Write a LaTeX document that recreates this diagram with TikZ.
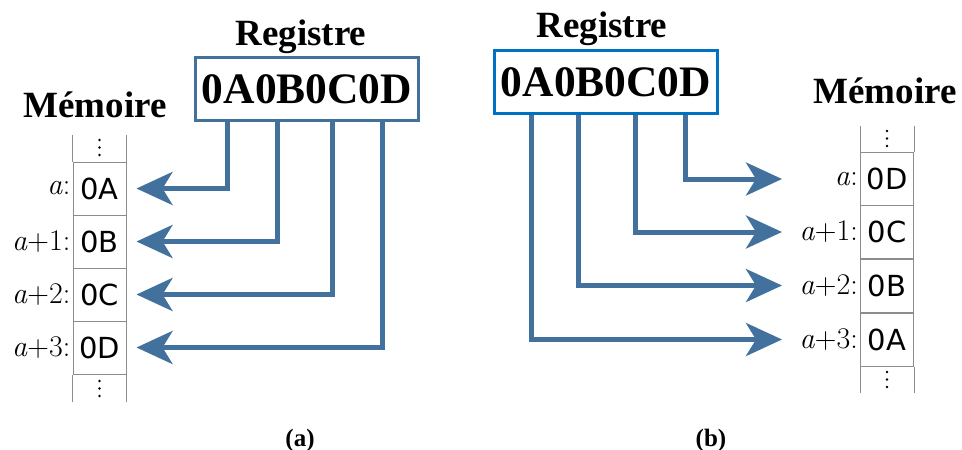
\documentclass[tikz,border=0pt]{standalone}
\usepackage{fontspec}
\newfontfamily\tnr{Liberation Serif}
\newfontfamily\cellfont{DejaVu Sans}
\usetikzlibrary{arrows.meta}
\definecolor{arrblue}{RGB}{65,113,156}
\definecolor{boxblue}{RGB}{0,112,192}
\definecolor{memgray}{RGB}{140,140,140}
\begin{document}
\begin{tikzpicture}[x=1pt,y=-1pt,
  title/.style={font=\tnr\bfseries\fontsize{37}{40}\selectfont, inner sep=0pt, anchor=base},
  caption/.style={font=\tnr\bfseries\fontsize{25}{28}\selectfont, inner sep=0pt},
  regbox/.style={draw, line width=3pt, fill=white, minimum width=223pt, minimum height=63pt,
    inner sep=0pt, font=\tnr\bfseries\fontsize{43.5}{46}\selectfont},
  cell/.style={draw=memgray, line width=1pt, minimum width=53pt, minimum height=53pt,
    inner sep=0pt, font=\cellfont\fontsize{29}{30}\selectfont},
  lab/.style={anchor=east, inner sep=2pt, font=\fontsize{30}{32}\selectfont},
  memline/.style={draw=memgray, line width=1pt},
  arr/.style={draw=arrblue, line width=5pt, -{Stealth[length=36pt,width=33pt,inset=10pt]}}
]
\useasboundingbox (0,0) rectangle (962,450);

% ---------------- (a) ----------------
\node[title] (regtitleA) at (301,45) {Registre};
\node[regbox, draw=arrblue] (RL) at (307,89) {0A0B0C0D};
\node[title] (memtitleA) at (95,117) {Mémoire};

\node[cell] (L1) at (99.5,188.5) {0A};
\node[cell] (L2) at (99.5,241.5) {0B};
\node[cell] (L3) at (99.5,294.5) {0C};
\node[cell] (L4) at (99.5,347.5) {0D};
\node[lab] (LL1) at (L1.west) {\textit{a}:};
\node[lab] (LL2) at (L2.west) {\textit{a}+1:};
\node[lab] (LL3) at (L3.west) {\textit{a}+2:};
\node[lab] (LL4) at (L4.west) {\textit{a}+3:};
\draw[memline] (L1.north west) -- ++(0,-27);
\draw[memline] (L1.north east) -- ++(0,-27);
\draw[memline] (L4.south west) -- ++(0,27);
\draw[memline] (L4.south east) -- ++(0,27);
\foreach \yy in {140,147.5,155,381,388.5,396}
  \fill (99.5,\yy) circle (1.4pt);

\coordinate (pa1) at (227,0);
\coordinate (pa2) at (277,0);
\coordinate (pa3) at (332,0);
\coordinate (pa4) at (382,0);
\draw[arr, shorten >=10pt] (RL.south -| pa1) |- (L1.east);
\draw[arr, shorten >=10pt] (RL.south -| pa2) |- (L2.east);
\draw[arr, shorten >=10pt] (RL.south -| pa3) |- (L3.east);
\draw[arr, shorten >=10pt] (RL.south -| pa4) |- (L4.east);

\node[caption] (capA) at (300,440) {(a)};

% ---------------- (b) ----------------
\node[title] (regtitleB) at (602,37) {Registre};
\node[regbox, draw=boxblue] (RR) at (606,82) {0A0B0C0D};
\node[title] (memtitleB) at (885,103) {Mémoire};

\node[cell] (R1) at (887,179) {0D};
\node[cell] (R2) at (887,232) {0C};
\node[cell] (R3) at (887,285.5) {0B};
\node[cell] (R4) at (887,339.5) {0A};
\node[lab] (RL1) at (R1.west) {\textit{a}:};
\node[lab] (RL2) at (R2.west) {\textit{a}+1:};
\node[lab] (RL3) at (R3.west) {\textit{a}+2:};
\node[lab] (RL4) at (R4.west) {\textit{a}+3:};
\draw[memline] (R1.north west) -- ++(0,-26);
\draw[memline] (R1.north east) -- ++(0,-26);
\draw[memline] (R4.south west) -- ++(0,26);
\draw[memline] (R4.south east) -- ++(0,26);
\foreach \yy in {131,138.5,146,372,379.5,387}
  \fill (887,\yy) circle (1.4pt);

\coordinate (pb1) at (685,0);
\coordinate (pb2) at (635,0);
\coordinate (pb3) at (578,0);
\coordinate (pb4) at (531,0);
\coordinate (tipb) at (782,0);
\draw[arr] (RR.south -| pb1) |- (R1.west -| tipb);
\draw[arr] (RR.south -| pb2) |- (R2.west -| tipb);
\draw[arr] (RR.south -| pb3) |- (R3.west -| tipb);
\draw[arr] (RR.south -| pb4) |- (R4.west -| tipb);

\node[caption] (capB) at (711,440) {(b)};
\end{tikzpicture}
\end{document}
